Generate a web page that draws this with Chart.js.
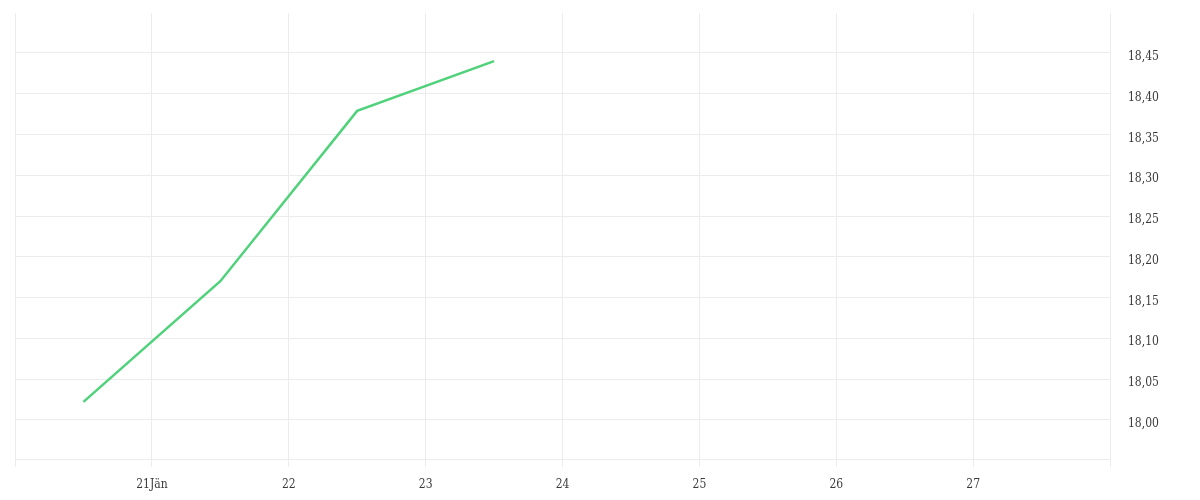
<!DOCTYPE html>
<html>
<head>
<meta charset="utf-8">
<script src="https://cdn.jsdelivr.net/npm/chart.js@4"></script>
<style>
    html, body { margin: 0; padding: 0; background: #fff; }
    #wrap { width: 1200px; height: 500px; }
</style>
</head>
<body>
<div id="wrap"><canvas id="kursChart"></canvas></div>
<script>
// kurse (mittags)
const dates = ['2021-01-20T12:00', '2021-01-21T12:00', '2021-01-22T12:00', '2021-01-23T12:00'];
const prices = [18.022, 18.17, 18.379, 18.44];

// achse
const axisStart = '2021-01-20T00:00';
const axisEnd = '2021-01-28T00:00';
const dayLabels = ['', '21Jän', '22', '23', '24', '25', '26', '27', ''];
const yTicks = [18.00, 18.05, 18.10, 18.15, 18.20, 18.25, 18.30, 18.35, 18.40, 18.45];

const DAY = 86400000;
const t0 = new Date(axisStart).getTime();
const t1 = new Date(axisEnd).getTime();

const points = dates.map((d, i) => ({ x: new Date(d).getTime(), y: prices[i] }));

const gridColor = '#ececec';
const font = { family: "'DejaVu Serif Condensed', 'DejaVu Serif', serif", size: 12 };

const ctx = document.getElementById('kursChart');

new Chart(ctx, {

    type: 'line',

    data: {
        datasets: [{
            data: points,
            borderColor: '#4fd27a',
            borderWidth: 2.5,
            pointRadius: 0,
            pointHoverRadius: 0,
            tension: 0,
            fill: false
        }]
    },

    options: {

        responsive: true,
        maintainAspectRatio: false,
        animation: false,

        layout: {
            padding: { left: 15, top: 13, right: 0, bottom: 0 }
        },

        plugins: {
            legend: { display: false },
            tooltip: { enabled: false }
        },

        scales: {

            x: {
                type: 'linear',
                min: t0,
                max: t1,
                afterBuildTicks: scale => {
                    scale.ticks = dayLabels.map((l, i) => ({ value: t0 + i * DAY }));
                },
                afterFit: scale => {
                    scale.height = 41;
                    scale.paddingLeft = 0;
                    scale.paddingRight = 0;
                },
                grid: {
                    color: gridColor,
                    tickLength: 8,
                    drawTicks: true
                },
                border: { display: true, color: gridColor },
                ticks: {
                    autoSkip: false,
                    maxRotation: 0,
                    padding: 11,
                    color: '#3a3a3a',
                    font: font,
                    callback: (v, i) => dayLabels[i]
                }
            },

            y: {
                position: 'right',
                min: 17.952,
                max: 18.499,
                afterBuildTicks: scale => {
                    scale.ticks = yTicks.map(v => ({ value: v }));
                },
                afterFit: scale => {
                    scale.width = 90;
                    scale.paddingTop = 0;
                    scale.paddingBottom = 0;
                },
                grid: {
                    color: gridColor,
                    drawTicks: false
                },
                border: { display: true, color: gridColor },
                ticks: {
                    padding: 18,
                    labelOffset: 4,
                    color: '#3a3a3a',
                    font: font,
                    callback: v => v.toFixed(2).replace('.', ',')
                }
            }
        }
    }
});
</script>
</body>
</html>
